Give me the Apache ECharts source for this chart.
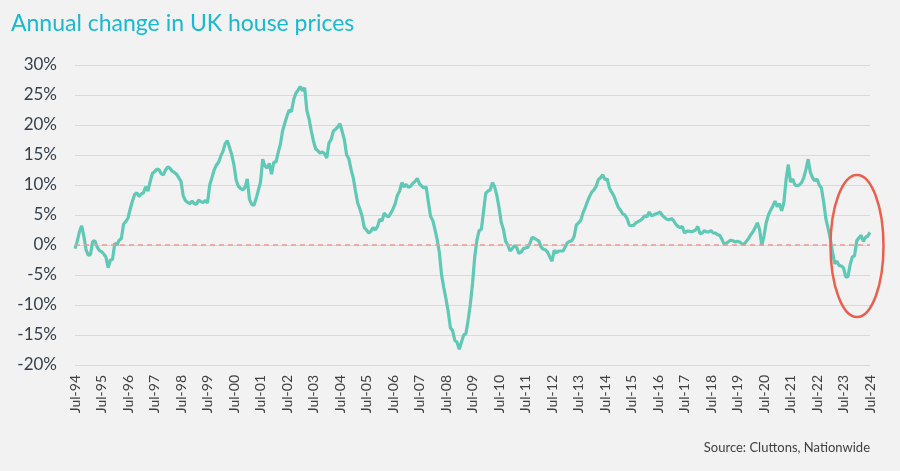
<!DOCTYPE html>
<html>
<head>
<meta charset="utf-8">
<script src="https://cdn.jsdelivr.net/npm/echarts@6/dist/echarts.min.js"></script>
<style>
  html, body { margin: 0; padding: 0; background: #f2f2f2; }
  #chart { width: 900px; height: 471px; }
</style>
</head>
<body>
<div id="chart"></div>
<script>
// monthly labels, Jul-94 .. Jul-24
var monthNames = ['Jan', 'Feb', 'Mar', 'Apr', 'May', 'Jun', 'Jul', 'Aug', 'Sep', 'Oct', 'Nov', 'Dec'];
var startYear = 1994;
var startMonth = 6; // Jul

// annual % change, one row per Jul..Jun year
var y1994 = [-0.6, 0.6, 2.2, 3.2, 1.5, -0.8, -1.7, -1.6, 0.6, 0.7, -0.3, -0.9];
var y1995 = [-1.1, -1.5, -2.0, -3.8, -2.5, -2.4, 0.3, 0.0, 0.8, 1.1, 3.5, 3.9];
var y1996 = [4.5, 6.0, 7.3, 8.4, 8.7, 8.1, 8.5, 8.7, 9.7, 9.0, 10.5, 11.9];
var y1997 = [12.2, 12.6, 12.6, 11.9, 11.7, 12.5, 13.0, 12.8, 12.3, 12.1, 11.8, 11.2];
var y1998 = [10.6, 8.2, 7.4, 7.1, 6.9, 7.3, 6.9, 6.8, 7.5, 7.2, 7.1, 7.4];
var y1999 = [7.0, 10.0, 11.2, 12.5, 13.3, 13.8, 14.8, 15.6, 16.9, 17.4, 16.2, 15.0];
var y2000 = [13.3, 10.8, 9.8, 9.4, 9.2, 9.6, 11.0, 7.6, 6.8, 6.6, 7.7, 9.1];
var y2001 = [10.5, 14.3, 13.2, 12.8, 13.6, 11.8, 13.8, 13.8, 15.4, 16.8, 19.0, 20.3];
var y2002 = [21.5, 22.5, 22.2, 24.2, 25.3, 25.8, 26.4, 25.7, 26.2, 22.4, 21.0, 19.0];
var y2003 = [17.3, 16.0, 15.7, 15.3, 15.5, 15.2, 14.5, 17.0, 17.6, 19.0, 19.3, 19.7];
var y2004 = [20.2, 18.9, 17.5, 15.0, 14.4, 12.6, 11.2, 9.0, 7.0, 6.0, 4.8, 2.9];
var y2005 = [2.5, 2.0, 2.3, 2.9, 2.5, 3.1, 4.3, 4.0, 5.3, 4.9, 4.7, 5.3];
var y2006 = [6.0, 6.9, 8.3, 9.0, 10.4, 9.7, 10.1, 9.6, 9.8, 10.3, 10.6, 11.1];
var y2007 = [10.2, 9.8, 9.5, 9.7, 7.2, 4.8, 4.1, 2.6, 0.9, -1.3, -5.0, -7.1];
var y2008 = [-9.0, -11.1, -13.8, -14.3, -15.9, -16.2, -17.4, -16.2, -15.0, -14.8, -12.6, -9.9];
var y2009 = [-6.5, -2.0, 0.8, 2.4, 2.6, 5.6, 8.6, 9.0, 9.2, 10.4, 9.7, 8.3];
var y2010 = [6.3, 3.8, 2.6, 0.6, 0.0, -1.0, -0.6, -0.1, -0.4, -1.4, -1.2, -0.6];
var y2011 = [-0.5, -0.4, 0.3, 1.3, 1.1, 0.9, 0.7, -0.3, -0.7, -0.8, -1.2, -2.0];
var y2012 = [-2.7, -0.9, -1.3, -1.0, -1.0, -1.0, -0.3, 0.4, 0.6, 0.7, 1.4, 3.3];
var y2013 = [3.7, 4.1, 5.3, 6.2, 7.2, 8.1, 8.8, 9.2, 9.8, 10.9, 11.2, 11.7];
var y2014 = [10.9, 11.0, 9.5, 8.8, 8.2, 7.2, 6.3, 5.8, 5.2, 5.0, 4.4, 3.3];
var y2015 = [3.2, 3.3, 3.7, 3.9, 4.1, 4.4, 4.9, 4.7, 5.5, 4.9, 5.0, 5.2];
var y2016 = [5.3, 5.5, 4.9, 4.6, 4.3, 4.2, 4.4, 4.1, 3.5, 3.1, 2.9, 3.1];
var y2017 = [2.0, 2.3, 2.3, 2.2, 2.3, 2.5, 3.1, 1.9, 2.0, 2.4, 2.2, 2.2];
var y2018 = [2.4, 2.0, 2.0, 1.7, 1.6, 0.9, 0.1, 0.3, 0.6, 0.8, 0.7, 0.5];
var y2019 = [0.6, 0.5, 0.2, 0.1, 0.6, 1.1, 1.7, 2.2, 2.9, 3.7, 2.6, -0.1];
var y2020 = [1.5, 3.7, 5.0, 5.8, 6.5, 7.3, 6.4, 6.9, 5.7, 7.1, 10.9, 13.4];
var y2021 = [10.5, 11.0, 10.0, 9.9, 10.0, 10.4, 11.2, 12.6, 14.3, 12.1, 11.2, 10.7];
var y2022 = [11.0, 10.0, 9.5, 7.2, 4.4, 2.8, 1.1, -1.1, -3.1, -2.7, -3.4, -3.5];
var y2023 = [-3.8, -5.3, -5.3, -3.3, -2.0, -1.8, 0.7, 1.2, 1.6, 0.6, 1.3, 1.5];
var y2024 = [2.1];

var yTicks = [-20, -15, -10, -5, 0, 5, 10, 15, 20, 25, 30];

var values = [].concat(y1994, y1995, y1996, y1997, y1998, y1999, y2000, y2001,
  y2002, y2003, y2004, y2005, y2006, y2007, y2008, y2009, y2010, y2011, y2012,
  y2013, y2014, y2015, y2016, y2017, y2018, y2019, y2020, y2021, y2022, y2023, y2024);

var months = [];
for (var i = 0; i < values.length; i++) {
  var m = (startMonth + i) % 12;
  var yr = startYear + Math.floor((startMonth + i) / 12);
  months.push(monthNames[m] + '-' + String(yr).slice(2));
}

var chart = echarts.init(document.getElementById('chart'));
var font = 'Lato, "Open Sans", sans-serif';

var option = {
  backgroundColor: '#f2f2f2',
  animation: false,
  title: {
    text: 'Annual change in UK house prices',
    left: 6,
    top: 7,
    textStyle: { color: '#17b9d3', fontSize: 23, fontWeight: 'normal', fontFamily: font }
  },
  graphic: [
    {
      type: 'text',
      right: 30,
      top: 441,
      style: { text: 'Source: Cluttons, Nationwide', fill: '#404040', fontSize: 13, fontFamily: font }
    },
    {
      type: 'ellipse',
      shape: { cx: 857, cy: 246, rx: 26.5, ry: 71 },
      style: { fill: 'none', stroke: '#ec5f4c', lineWidth: 2.5 },
      z: 10
    }
  ],
  grid: { left: 75, right: 30, top: 65, bottom: 106 },
  xAxis: {
    type: 'category',
    boundaryGap: false,
    data: months,
    axisLine: { show: false },
    axisTick: { show: false },
    axisLabel: {
      interval: 11,
      rotate: 90,
      margin: 10,
      color: '#404040',
      fontSize: 14,
      fontFamily: font
    },
    splitLine: { show: false }
  },
  yAxis: {
    type: 'value',
    min: yTicks[0],
    max: yTicks[yTicks.length - 1],
    interval: 5,
    axisLine: { show: false },
    axisTick: { show: false },
    axisLabel: {
      formatter: '{value}%',
      margin: 18,
      color: '#333f4a',
      fontSize: 17,
      fontFamily: font
    },
    splitLine: { lineStyle: { color: '#d9d9d9', width: 1 } }
  },
  series: [
    {
      name: 'Annual change',
      type: 'line',
      data: values,
      showSymbol: false,
      lineStyle: { color: '#5fc9b6', width: 3.2 },
      itemStyle: { color: '#5fc9b6' },
      markLine: {
        silent: true,
        symbol: 'none',
        label: { show: false },
        lineStyle: { color: '#ef9a92', type: [5, 4], width: 1.5 },
        data: [{ yAxis: 0 }]
      }
    }
  ]
};

option && chart.setOption(option);
</script>
</body>
</html>
